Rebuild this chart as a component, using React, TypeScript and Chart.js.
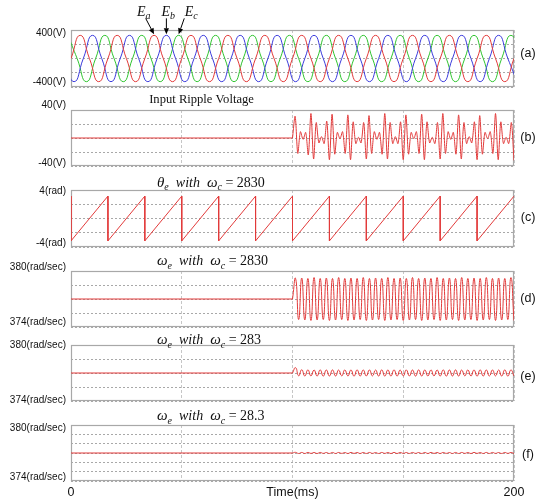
import React, { useEffect, useRef } from 'react';
import { Chart, registerables } from 'chart.js';

Chart.register(...registerables);

// ================= DATA =================
const TIME_MIN_MS = 0;
const TIME_MAX_MS = 200;
const X_GRID_STEP_MS = 50;
const X_TICK_VALUES = [0, 100, 200];
const X_TICK_TEXTS = ['0', 'Time(ms)', '200'];

const PANEL_LETTERS = ['(a)', '(b)', '(c)', '(d)', '(e)', '(f)'];
const Y_TOP_LABELS = ['400(V)', '40(V)', '4(rad)', '380(rad/sec)', '380(rad/sec)', '380(rad/sec)'];
const Y_BOTTOM_LABELS = ['-400(V)', '-40(V)', '-4(rad)', '374(rad/sec)', '374(rad/sec)', '374(rad/sec)'];
const Y_MIN = [-400, -40, -4, 374, 374, 374];
const Y_MAX = [400, 40, 4, 380, 380, 380];
const Y_STEP = [200, 20, 2, 1.5, 1.5, 1];

// (a) three-phase voltages: key points (zero, peak, zero, trough) every quarter period
const PHASE_STEP_MS = 4.1667;
const EA_START_MS = 0;
const EB_START_MS = -2.78;
const EC_START_MS = -1.39;
const EA_V = [
  0, 325, 0, -325, 0, 325, 0, -325, 0, 325, 0, -325, 0, 325, 0, -325,
  0, 325, 0, -325, 0, 325, 0, -325, 0, 325, 0, -325, 0, 325, 0, -325,
  0, 325, 0, -325, 0, 325, 0, -325, 0, 325, 0, -325, 0, 325, 0, -325,
  0, 325,
];
const EB_V = [
  0, -325, 0, 325, 0, -325, 0, 325, 0, -325, 0, 325, 0, -325, 0, 325,
  0, -325, 0, 325, 0, -325, 0, 325, 0, -325, 0, 325, 0, -325, 0, 325,
  0, -325, 0, 325, 0, -325, 0, 325, 0, -325, 0, 325, 0, -325, 0, 325,
  0, -325,
];
const EC_V = [
  325, 0, -325, 0, 325, 0, -325, 0, 325, 0, -325, 0, 325, 0, -325, 0,
  325, 0, -325, 0, 325, 0, -325, 0, 325, 0, -325, 0, 325, 0, -325, 0,
  325, 0, -325, 0, 325, 0, -325, 0, 325, 0, -325, 0, 325, 0, -325, 0,
  325, 0,
];
const PHASE_NAMES = ['a', 'b', 'c'];
const PHASE_ARROW_TIMES_MS = [37.5, 43.06, 48.61];
const PHASE_ARROW_VALUE = 325;

// (b) input ripple voltage (extrema after the disturbance starts)
const RIPPLE_TITLE = 'Input Ripple Voltage';
const DISTURBANCE_START_MS = 100;
const RIPPLE_BEFORE_V = 0;
const RIPPLE_STEP_MS = 1.19048;
const RIPPLE_V = [
  0,
  31, -22, 9, -2, 8, -24, 35, -30, 22, -7, 2, -8, 24, -31,
  34, -23, 8, -1, 9, -22, 33, -31, 23, -8, 1, -7, 22, -30,
  32, -22, 9, -2, 8, -23, 35, -30, 22, -8, 2, -8, 23, -31,
  33, -23, 8, -1, 9, -22, 34, -31, 23, -7, 1, -8, 22, -30,
  35, -22, 9, -2, 8, -23, 33, -30, 22, -8, 2, -7, 23, -31,
  32, -23, 8, -1, 9, -22, 35, -31, 23, -8, 1, -8, 22, -32,
];

// (c) electrical angle sawtooth
const THETA_T = [
  0, 0, 16.67, 16.67, 33.33, 33.33, 50, 50, 66.67, 66.67, 83.33, 83.33,
  100, 100, 116.67, 116.67, 133.33, 133.33, 150, 150, 166.67, 166.67, 183.33, 183.33, 200,
];
const THETA_V = [
  3.14, -3.14, 3.14, -3.14, 3.14, -3.14, 3.14, -3.14, 3.14, -3.14, 3.14, -3.14,
  3.14, -3.14, 3.14, -3.14, 3.14, -3.14, 3.14, -3.14, 3.14, -3.14, 3.14, -3.14, 3.14,
];

// (d)(e)(f) electrical speed
const SYMBOLS = ['θ', 'ω', 'ω', 'ω'];
const WC_VALUES = ['2830', '2830', '283', '28.3'];
const OMEGA_NOMINAL = 377;
const OMEGA_STEP_MS = 1.38889;
const OMEGA_D = [
  377,
  379.2, 374.8, 379.25, 374.75, 379.2, 374.7, 379.3, 374.75, 379.2, 374.8, 379.25, 374.7,
  379.2, 374.75, 379.3, 374.8, 379.2, 374.7, 379.25, 374.75, 379.2, 374.8, 379.3, 374.7,
  379.2, 374.75, 379.25, 374.8, 379.2, 374.7, 379.3, 374.75, 379.2, 374.8, 379.25, 374.7,
  379.2, 374.75, 379.3, 374.8, 379.2, 374.7, 379.25, 374.75, 379.2, 374.8, 379.3, 374.7,
  379.2, 374.75, 379.25, 374.8, 379.2, 374.7, 379.3, 374.75, 379.2, 374.8, 379.25, 374.7,
  379.2, 374.75, 379.3, 374.8, 379.2, 374.7, 379.25, 374.75, 379.2, 374.8, 379.3, 374.7,
];
const OMEGA_E = [
  377,
  377.57, 376.7, 377.35, 376.68, 377.33, 376.69, 377.32, 376.68, 377.33, 376.67, 377.32, 376.68,
  377.33, 376.68, 377.32, 376.69, 377.33, 376.68, 377.32, 376.67, 377.33, 376.68, 377.32, 376.68,
  377.33, 376.69, 377.32, 376.68, 377.33, 376.67, 377.32, 376.68, 377.33, 376.68, 377.32, 376.69,
  377.33, 376.68, 377.32, 376.67, 377.33, 376.68, 377.32, 376.68, 377.33, 376.69, 377.32, 376.68,
  377.33, 376.67, 377.32, 376.68, 377.33, 376.68, 377.32, 376.69, 377.33, 376.68, 377.32, 376.67,
  377.33, 376.68, 377.32, 376.68, 377.33, 376.69, 377.32, 376.68, 377.33, 376.67, 377.32, 376.68,
];
const OMEGA_F = [
  377,
  377.07, 376.95, 377.06, 376.95, 377.06, 376.96, 377.05, 376.95, 377.06, 376.96, 377.05, 376.95,
  377.06, 376.95, 377.06, 376.96, 377.05, 376.95, 377.06, 376.96, 377.05, 376.95, 377.06, 376.95,
  377.06, 376.96, 377.05, 376.95, 377.06, 376.96, 377.05, 376.95, 377.06, 376.95, 377.06, 376.96,
  377.05, 376.95, 377.06, 376.96, 377.05, 376.95, 377.06, 376.95, 377.06, 376.96, 377.05, 376.95,
  377.06, 376.96, 377.05, 376.95, 377.06, 376.95, 377.06, 376.96, 377.05, 376.95, 377.06, 376.96,
  377.05, 376.95, 377.06, 376.95, 377.06, 376.96, 377.05, 376.95, 377.06, 376.96, 377.05, 376.95,
];

// ================= STYLE / LAYOUT =================
const W = 543;
const PLOT_LEFT = 71;
const PLOT_RIGHT = 514;
const LETTER_X = 528;
const X_AXIS_H = 20;
const SANS = '"Liberation Sans", Arial, sans-serif';
const SERIF = '"Liberation Serif", "Times New Roman", serif';
const TEXT_COLOR = '#111';
const BOX_COLOR = '#a8a8a8';
const HGRID_COLOR = '#a8a8a8';
const VGRID_COLOR = '#c6c6c6';
const RED = '#e23a3a';
const BLUE = '#3c3cdc';
const GREEN = '#30c430';

const LAYOUT = [
  { canvasTop: 0, canvasBottom: 95, plotTop: 30, plotBottom: 87, topDy: 3, botDy: -5, letterDy: -5, titleDy: 0 },
  { canvasTop: 88, canvasBottom: 172, plotTop: 110, plotBottom: 166, topDy: -5, botDy: -3, letterDy: 0, titleDy: -10 },
  { canvasTop: 170, canvasBottom: 254, plotTop: 190, plotBottom: 247, topDy: 1.5, botDy: -3.5, letterDy: -1, titleDy: -8.5 },
  { canvasTop: 250, canvasBottom: 333, plotTop: 271, plotBottom: 327, topDy: -4, botDy: -5, letterDy: -0.5, titleDy: -11 },
  { canvasTop: 328, canvasBottom: 407, plotTop: 345, plotBottom: 401, topDy: 0.5, botDy: -0.5, letterDy: 4, titleDy: -6 },
  { canvasTop: 404, canvasBottom: 501, plotTop: 425, plotBottom: 481, topDy: 3, botDy: -4, letterDy: 1.3, titleDy: -10 },
];
const ARROW_STYLE = [
  { textDx: -17, tailDx: -8.4 },
  { textDx: -5, tailDx: 0 },
  { textDx: 6, tailDx: 5.6 },
];

// ================= HELPERS =================
type Pt = { x: number; y: number };
const seq = (start: number, step: number, vals: number[]): Pt[] =>
  vals.map((v, i) => ({ x: start + i * step, y: v }));
const pairs = (ts: number[], vs: number[]): Pt[] => ts.map((t, i) => ({ x: t, y: vs[i] }));

function panelDatasets(i: number) {
  const line = (data: Pt[], color: string, tension: number) => ({
    data, borderColor: color, borderWidth: 1, pointRadius: 0, tension, fill: false,
  });
  const flat = (v: number) => [{ x: TIME_MIN_MS, y: v }, { x: DISTURBANCE_START_MS, y: v }];
  switch (i) {
    case 0:
      return [
        line(seq(EA_START_MS, PHASE_STEP_MS, EA_V), RED, 0.55),
        line(seq(EB_START_MS, PHASE_STEP_MS, EB_V), BLUE, 0.55),
        line(seq(EC_START_MS, PHASE_STEP_MS, EC_V), GREEN, 0.55),
      ];
    case 1:
      return [
        line(flat(RIPPLE_BEFORE_V), RED, 0),
        line(seq(DISTURBANCE_START_MS, RIPPLE_STEP_MS, RIPPLE_V), RED, 0.3),
      ];
    case 2:
      return [line(pairs(THETA_T, THETA_V), RED, 0)];
    default: {
      const vals = i === 3 ? OMEGA_D : i === 4 ? OMEGA_E : OMEGA_F;
      return [
        line(flat(OMEGA_NOMINAL), RED, 0),
        line(seq(DISTURBANCE_START_MS, OMEGA_STEP_MS, vals), RED, 0.55),
      ];
    }
  }
}

function drawMathTitle(ctx: CanvasRenderingContext2D, x: number, yCenter: number, symbol: string, wc: string) {
  const base = yCenter + 5;
  const parts = [
    { t: symbol, font: `italic 15px ${SERIF}`, dy: 0 },
    { t: 'e', font: `italic 10px ${SERIF}`, dy: 3.5 },
    { t: '  with  ', font: `italic 14px ${SERIF}`, dy: 0 },
    { t: 'ω', font: `italic 15px ${SERIF}`, dy: 0 },
    { t: 'c', font: `italic 10px ${SERIF}`, dy: 3.5 },
    { t: ' = ' + wc, font: `14px ${SERIF}`, dy: 0 },
  ];
  ctx.textAlign = 'left';
  ctx.textBaseline = 'alphabetic';
  let cx = x;
  for (const p of parts) {
    ctx.font = p.font;
    ctx.fillText(p.t, cx, base + p.dy);
    cx += ctx.measureText(p.t).width;
  }
}

function makeConfig(i: number): any {
  const L = LAYOUT[i];
  const isLast = i === LAYOUT.length - 1;
  const deco = {
    id: 'deco' + i,
    beforeDatasetsDraw(chart: any) {
      const { ctx, chartArea: a } = chart;
      ctx.save();
      ctx.strokeStyle = BOX_COLOR;
      ctx.lineWidth = 1.2;
      ctx.strokeRect(a.left + 0.5, a.top + 0.5, a.right - a.left - 1, a.bottom - a.top - 1);
      ctx.restore();
    },
    afterDraw(chart: any) {
      const { ctx, chartArea: a, scales } = chart;
      ctx.save();
      ctx.fillStyle = TEXT_COLOR;
      ctx.font = `10px ${SANS}`;
      ctx.textAlign = 'right';
      ctx.textBaseline = 'middle';
      ctx.fillText(Y_TOP_LABELS[i], a.left - 5, a.top + L.topDy);
      ctx.fillText(Y_BOTTOM_LABELS[i], a.left - 5, a.bottom + L.botDy);
      ctx.font = `12.5px ${SANS}`;
      ctx.textAlign = 'center';
      ctx.fillText(PANEL_LETTERS[i], LETTER_X, (a.top + a.bottom) / 2 + L.letterDy);

      if (i === 1) {
        ctx.font = `12.6px ${SERIF}`;
        ctx.textAlign = 'center';
        ctx.textBaseline = 'middle';
        ctx.fillText(RIPPLE_TITLE, 201.5, a.top + L.titleDy);
      } else if (i >= 2) {
        drawMathTitle(ctx, 157, a.top + L.titleDy, SYMBOLS[i - 2], WC_VALUES[i - 2]);
      }

      if (i === 0) {
        const xs = scales.x, ys = scales.y;
        PHASE_ARROW_TIMES_MS.forEach((t, k) => {
          const px = xs.getPixelForValue(t);
          const py = ys.getPixelForValue(PHASE_ARROW_VALUE);
          const st = ARROW_STYLE[k];
          const tx = px + st.tailDx, ty = py - 17;
          const ex = px, ey = py - 1;
          const ang = Math.atan2(ey - ty, ex - tx);
          const hl = 6, hw = 2.6;
          const bx = ex - hl * Math.cos(ang), by = ey - hl * Math.sin(ang);
          ctx.strokeStyle = '#000';
          ctx.lineWidth = 1;
          ctx.beginPath();
          ctx.moveTo(tx, ty);
          ctx.lineTo(bx, by);
          ctx.stroke();
          ctx.fillStyle = '#000';
          ctx.beginPath();
          ctx.moveTo(ex, ey);
          ctx.lineTo(bx + hw * Math.sin(ang), by - hw * Math.cos(ang));
          ctx.lineTo(bx - hw * Math.sin(ang), by + hw * Math.cos(ang));
          ctx.closePath();
          ctx.fill();
          ctx.fillStyle = TEXT_COLOR;
          ctx.textAlign = 'left';
          ctx.textBaseline = 'alphabetic';
          ctx.font = `italic 14px ${SERIF}`;
          const lx = px + st.textDx, ly = py - 19;
          ctx.fillText('E', lx, ly);
          const w = ctx.measureText('E').width;
          ctx.font = `italic 10px ${SERIF}`;
          ctx.fillText(PHASE_NAMES[k], lx + w, ly + 3);
        });
      }
      ctx.restore();
    },
  };

  const axisH = isLast ? X_AXIS_H : 0;
  return {
    type: 'line',
    data: { datasets: panelDatasets(i) },
    options: {
      animation: false,
      responsive: false,
      maintainAspectRatio: false,
      devicePixelRatio: 1,
      events: [],
      layout: {
        padding: {
          left: 0,
          right: W - PLOT_RIGHT,
          top: L.plotTop - L.canvasTop,
          bottom: L.canvasBottom - L.plotBottom - axisH,
        },
      },
      plugins: { legend: { display: false }, tooltip: { enabled: false }, title: { display: false } },
      scales: {
        x: {
          type: 'linear',
          min: TIME_MIN_MS,
          max: TIME_MAX_MS,
          afterFit: (s: any) => { s.height = axisH; },
          grid: { color: VGRID_COLOR, lineWidth: 1, drawTicks: false },
          border: { display: false, dash: [3, 2] },
          ticks: {
            display: isLast,
            stepSize: X_GRID_STEP_MS,
            autoSkip: false,
            maxRotation: 0,
            padding: 4,
            color: TEXT_COLOR,
            font: { family: SANS, size: 12.5 },
            callback: (v: number) => {
              const k = X_TICK_VALUES.indexOf(v);
              return k >= 0 ? X_TICK_TEXTS[k] : '';
            },
          },
        },
        y: {
          type: 'linear',
          min: Y_MIN[i],
          max: Y_MAX[i],
          afterFit: (s: any) => { s.width = PLOT_LEFT; },
          grid: { color: HGRID_COLOR, lineWidth: 1, drawTicks: false },
          border: { display: false, dash: [2, 2] },
          ticks: { display: false, stepSize: Y_STEP[i] },
        },
      },
    },
    plugins: [deco],
  };
}

function Panel({ index }: { index: number }) {
  const ref = useRef<HTMLCanvasElement>(null);
  const L = LAYOUT[index];
  const H = L.canvasBottom - L.canvasTop;
  useEffect(() => {
    const chart = new Chart(ref.current as HTMLCanvasElement, makeConfig(index));
    return () => chart.destroy();
  }, [index]);
  return (
    <canvas
      ref={ref}
      width={W}
      height={H}
      style={{ position: 'absolute', left: 0, top: L.canvasTop, width: W, height: H, display: 'block' }}
    />
  );
}

export default function App() {
  return (
    <div style={{ position: 'absolute', left: 0, top: 0, width: W, height: 501, background: '#fff', overflow: 'hidden' }}>
      {LAYOUT.map((_, i) => (
        <Panel key={i} index={i} />
      ))}
    </div>
  );
}
